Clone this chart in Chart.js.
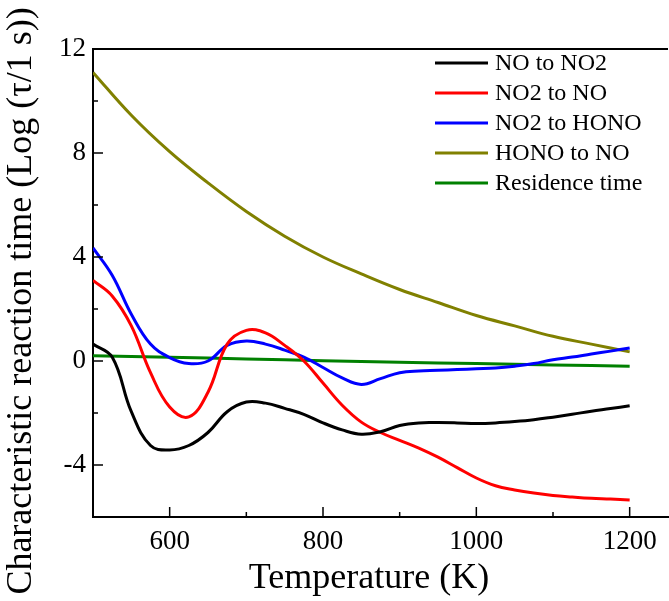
<!DOCTYPE html>
<html>
<head>
<meta charset="utf-8">
<script src="https://cdn.jsdelivr.net/npm/chart.js@4"></script>
<style>
  html, body { margin: 0; padding: 0; background: #fff; }
  #wrap { width: 669px; height: 601px; }
</style>
</head>
<body>
<div id="wrap"><canvas id="myChart" width="669" height="601"></canvas></div>
<script>
// temperatures (K) shared by the curves
const temps = [500, 525, 550, 575, 600, 625, 650, 675, 700, 725, 750, 775, 800, 825, 850,
               875, 900, 925, 950, 975, 1000, 1025, 1050, 1075, 1100, 1125, 1150, 1175, 1200]

const noToNo2 = [0.65, 0.15, -1.95, -3.25, -3.42, -3.25, -2.75, -1.95, -1.58, -1.62, -1.82, -2.05, -2.38, -2.65, -2.82,
                 -2.72, -2.48, -2.38, -2.37, -2.38, -2.4, -2.38, -2.33, -2.26, -2.16, -2.05, -1.93, -1.83, -1.72]
const no2ToNo = [3.1, 2.5, 1.35, -0.45, -1.77, -2.15, -1.2, 0.65, 1.18, 1.08, 0.6, 0.0, -0.85, -1.7, -2.35,
                 -2.75, -3.05, -3.35, -3.7, -4.1, -4.5, -4.8, -4.96, -5.08, -5.17, -5.23, -5.28, -5.31, -5.35]
const no2ToHono = [4.35, 3.3, 1.8, 0.65, 0.13, -0.1, 0.0, 0.6, 0.77, 0.65, 0.42, 0.15, -0.25, -0.65, -0.9,
                   -0.68, -0.45, -0.38, -0.36, -0.33, -0.3, -0.27, -0.2, -0.1, 0.05, 0.15, 0.27, 0.38, 0.5]

const honoTemps = [500, 550, 600, 650, 700, 750, 800, 850, 900, 950, 1000, 1050, 1100, 1150, 1200]
const honoToNo = [11.1, 9.45, 8.05, 6.85, 5.75, 4.8, 4.0, 3.35, 2.75, 2.25, 1.75, 1.35, 0.95, 0.65, 0.35]

const resTemps = [500, 600, 700, 800, 900, 1000, 1100, 1200]
const residence = [0.2, 0.14, 0.08, 0.01, -0.05, -0.1, -0.15, -0.2]

const labels = ["NO to NO2", "NO2 to NO", "NO2 to HONO", "HONO to NO", "Residence time"]
const colors = ["#000000", "#ff0000", "#0000ff", "#808000", "#008000"]

const xMajor = [600, 800, 1000, 1200]
const xMinor = [500, 700, 900, 1100]
const yMajor = [-4, 0, 4, 8, 12]
const yMinor = [-6, -2, 2, 6, 10]

const xTitle = "Temperature (K)"
const yTitle = "Characteristic reaction time (Log (τ/1 s))"

const serif = "'Liberation Serif', 'Times New Roman', serif"

function pts(xs, ys) {
    return xs.map((x, i) => ({x: x, y: ys[i]}))
}

// inward ticks, top frame line, axis titles and the legend inside the plot
const framePlugin = {
    id: 'frame',
    afterDraw(chart) {
        const ctx = chart.ctx
        const a = chart.chartArea
        const xs = chart.scales.x
        const ys = chart.scales.y
        ctx.save()
        ctx.strokeStyle = '#000'
        ctx.lineWidth = 2
        ctx.beginPath()
        ctx.moveTo(a.left, a.top)
        ctx.lineTo(a.right, a.top)
        ctx.stroke()
        ctx.lineWidth = 1.5
        xMajor.forEach(v => { let p = xs.getPixelForValue(v); ctx.beginPath(); ctx.moveTo(p, a.bottom); ctx.lineTo(p, a.bottom - 10); ctx.stroke() })
        xMinor.forEach(v => { let p = xs.getPixelForValue(v); ctx.beginPath(); ctx.moveTo(p, a.bottom); ctx.lineTo(p, a.bottom - 5); ctx.stroke() })
        yMajor.forEach(v => { let p = ys.getPixelForValue(v); ctx.beginPath(); ctx.moveTo(a.left, p); ctx.lineTo(a.left + 10, p); ctx.stroke() })
        yMinor.forEach(v => { let p = ys.getPixelForValue(v); ctx.beginPath(); ctx.moveTo(a.left, p); ctx.lineTo(a.left + 5, p); ctx.stroke() })

        // axis titles
        ctx.fillStyle = '#000'
        ctx.font = "36px " + serif
        ctx.textAlign = 'center'
        ctx.textBaseline = 'middle'
        ctx.fillText(xTitle, 369, 579)
        ctx.save()
        ctx.translate(22, 301)
        ctx.rotate(-Math.PI / 2)
        ctx.fillText(yTitle, 0, 0)
        ctx.restore()

        // legend
        ctx.font = "24px " + serif
        ctx.textAlign = 'left'
        chart.data.datasets.forEach((ds, i) => {
            let y = 63 + i * 30
            ctx.strokeStyle = ds.borderColor
            ctx.lineWidth = 3
            ctx.beginPath()
            ctx.moveTo(435, y)
            ctx.lineTo(488, y)
            ctx.stroke()
            ctx.fillText(ds.label, 495, y + 1)
        })
        ctx.restore()
    }
}

function makeDataset(idx, data) {
    return {
        label: labels[idx],
        data: data,
        borderColor: colors[idx],
        backgroundColor: colors[idx],
        borderWidth: 3,
        pointRadius: 0,
        tension: 0.4,
        fill: false
    }
}

new Chart("myChart", {
    type: "line",
    data: {
        datasets: [
            makeDataset(0, pts(temps, noToNo2)),
            makeDataset(1, pts(temps, no2ToNo)),
            makeDataset(2, pts(temps, no2ToHono)),
            makeDataset(3, pts(honoTemps, honoToNo)),
            makeDataset(4, pts(resTemps, residence))
        ]
    },
    options: {
        responsive: false,
        animation: false,
        layout: { padding: { top: 49, right: 1, left: 0, bottom: 0 } },
        plugins: { legend: { display: false }, tooltip: { enabled: false } },
        scales: {
            x: {
                type: 'linear',
                min: 500,
                max: 1250,
                afterBuildTicks: scale => { scale.ticks = xMajor.map(v => ({value: v})) },
                afterFit: scale => { scale.height = 84 },
                grid: { display: false, drawTicks: false },
                border: { display: true, color: '#000', width: 2 },
                ticks: { color: '#000', padding: 9, maxRotation: 0, callback: v => String(v), font: { family: serif, size: 27 } },
                title: { display: false }
            },
            y: {
                min: -6,
                max: 12,
                afterBuildTicks: scale => { scale.ticks = yMajor.map(v => ({value: v})) },
                afterFit: scale => { scale.width = 93 },
                grid: { display: false, drawTicks: false },
                border: { display: true, color: '#000', width: 2 },
                ticks: { color: '#000', padding: 7, callback: v => String(v), font: { family: serif, size: 27 } },
                title: { display: false }
            }
        }
    },
    plugins: [framePlugin]
})
</script>
</body>
</html>
